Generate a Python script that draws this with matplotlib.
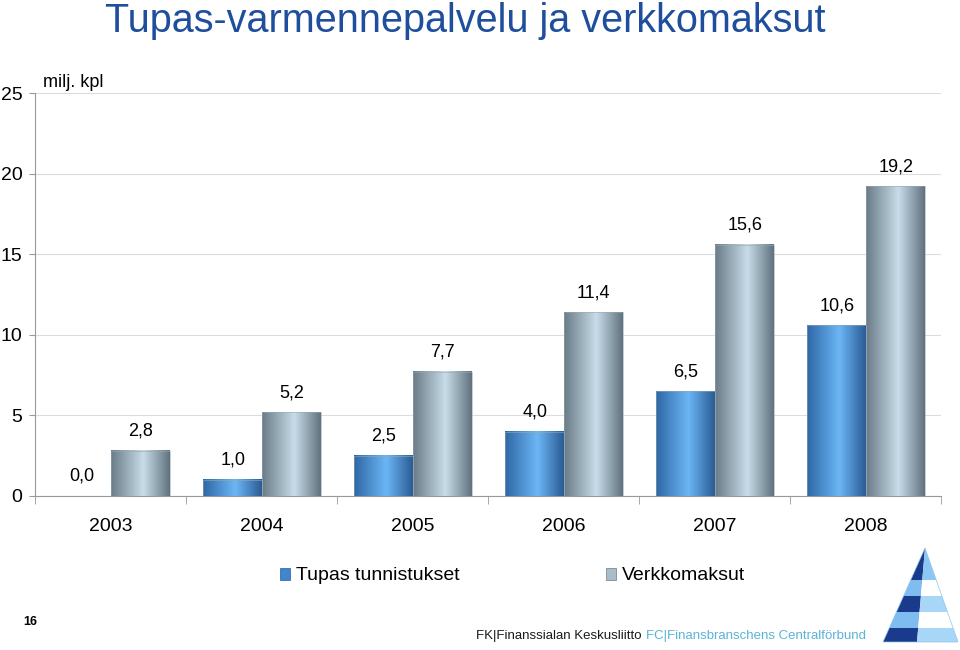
import numpy as np
import matplotlib.pyplot as plt
from matplotlib.colors import LinearSegmentedColormap
from matplotlib.patches import Polygon, Rectangle

plt.rcParams['font.family'] = ['Liberation Sans', 'DejaVu Sans']

vuodet = ['2003', '2004', '2005', '2006', '2007', '2008']
tupas = [0.0, 1.0, 2.5, 4.0, 6.5, 10.6]
verkko = [2.8, 5.2, 7.7, 11.4, 15.6, 19.2]
sarjat = ['Tupas tunnistukset', 'Verkkomaksut']

# vaakasuuntaiset liukuvarit palkeille
cm_tupas = LinearSegmentedColormap.from_list('tupas', [(0, '#2f68a6'), (0.55, '#6cb6f6'), (1, '#2b5d96')])
cm_verkko = LinearSegmentedColormap.from_list('verkko', [(0, '#6a7c88'), (0.55, '#c8dde9'), (1, '#627380')])

fig = plt.figure(figsize=(9.6, 6.5), dpi=100)
ax = fig.add_axes([35/960, 1-496/650, 906/960, 403/650])

w = 0.39
grad = np.linspace(0, 1, 64).reshape(1, -1)

def palkki(x, h, cmap):
    if h <= 0:
        return
    ax.imshow(grad, cmap=cmap, extent=[x - w/2, x + w/2, 0, h], aspect='auto',
              interpolation='bilinear', zorder=3)
    ax.add_patch(Rectangle((x - w/2, 0), w, h, fill=False, ec='#9aa8b2', lw=0.4, zorder=4))

for i in range(len(vuodet)):
    x1 = i - 0.19
    x2 = i + 0.2
    palkki(x1, tupas[i], cm_tupas)
    palkki(x2, verkko[i], cm_verkko)
    ax.annotate(f'{tupas[i]:.1f}'.replace('.', ','), (x1, tupas[i]), xytext=(0, 8),
                textcoords='offset points', ha='center', va='bottom', fontsize=13)
    ax.annotate(f'{verkko[i]:.1f}'.replace('.', ','), (x2, verkko[i]), xytext=(0, 8),
                textcoords='offset points', ha='center', va='bottom', fontsize=13)

ax.set_xlim(-0.5, len(vuodet) - 0.5)
ax.set_ylim(0, 25)
ax.set_yticks([0, 5, 10, 15, 20, 25])
ax.grid(axis='y', color='#dcdcdc', lw=0.8, zorder=0)
ax.set_axisbelow(True)

ax.set_xticks(range(len(vuodet)))
ax.set_xticklabels(vuodet, fontsize=14)
ax.set_xticks(np.arange(-0.5, len(vuodet)), minor=True)
ax.tick_params(axis='x', which='major', length=0, pad=16)
ax.tick_params(axis='x', which='minor', length=6, color='#999999')
ax.tick_params(axis='y', labelsize=14, length=4, color='#999999', pad=5)
for s in ['top', 'right']:
    ax.spines[s].set_visible(False)
ax.spines['left'].set_color('#999999')
ax.spines['bottom'].set_color('#999999')

ax.text(0.0085, 1.005, 'milj. kpl', transform=ax.transAxes, fontsize=13, va='bottom')

fig.text(105/960, 1-21/650, 'Tupas-varmennepalvelu ja verkkomaksut', fontsize=28.5,
         color='#1f4e9c', va='center', ha='left')

# selite
fig.patches.append(Rectangle((280/960, 1-580/650), 10/960, 12/650, transform=fig.transFigure,
                             fc='#3f86cc', ec='#2b5d96', lw=0.5))
fig.text(296/960, 1-575/650, sarjat[0], fontsize=14, va='center')
fig.patches.append(Rectangle((606/960, 1-580/650), 10/960, 12/650, transform=fig.transFigure,
                             fc='#a9bcc8', ec='#6a7c88', lw=0.5))
fig.text(622/960, 1-575/650, sarjat[1], fontsize=14, va='center')

fig.text(30/960, 1-622/650, '16', fontsize=9, fontweight='bold', ha='center', va='center')

# logo teksti
t1 = fig.text(476/960, 1-636/650, 'FK|Finanssialan Keskusliitto', fontsize=9.5, color='#1a1a1a',
              va='center')
fig.canvas.draw()
x_end = t1.get_window_extent().x1 + 4
fig.text(x_end/960, 1-636/650, 'FC|Finansbranschens Centralförbund', fontsize=9.5, color='#5ab4d6',
         va='center')

# logo kolmio
def fx(px):
    return px / 960
def fy(py):
    return 1 - py / 650

apex = (925, 548)
base_l = (883, 642)
base_r = (958, 642)
mid_x = 917
band_y = [548, 580, 596, 612, 628, 642]
cols_l = ['#1a3a8c', '#7fbdf0', '#1a3a8c', '#7fbdf0', '#1a3a8c']
cols_r = ['#8cc6f2', '#ffffff', '#a8d6f6', '#ffffff', '#a8d6f6']

def edge_x(py, side):
    t = (py - apex[1]) / (base_l[1] - apex[1])
    if side == 'l':
        return apex[0] + t * (base_l[0] - apex[0])
    return apex[0] + t * (base_r[0] - apex[0])

def mid(py):
    t = (py - apex[1]) / (base_l[1] - apex[1])
    return apex[0] + t * (mid_x - apex[0])

for k in range(len(band_y) - 1):
    y0, y1 = band_y[k], band_y[k + 1]
    pl = [(edge_x(y0, 'l'), y0), (mid(y0), y0), (mid(y1), y1), (edge_x(y1, 'l'), y1)]
    pr = [(mid(y0), y0), (edge_x(y0, 'r'), y0), (edge_x(y1, 'r'), y1), (mid(y1), y1)]
    fig.patches.append(Polygon([(fx(a), fy(b)) for a, b in pl], closed=True,
                               transform=fig.transFigure, fc=cols_l[k], ec='none'))
    fig.patches.append(Polygon([(fx(a), fy(b)) for a, b in pr], closed=True,
                               transform=fig.transFigure, fc=cols_r[k], ec='none'))
fig.patches.append(Polygon([(fx(a), fy(b)) for a, b in [apex, base_l, base_r]], closed=True,
                           transform=fig.transFigure, fill=False, ec='#8cc6f2', lw=0.5))

fig.savefig('out.png', dpi=100)
